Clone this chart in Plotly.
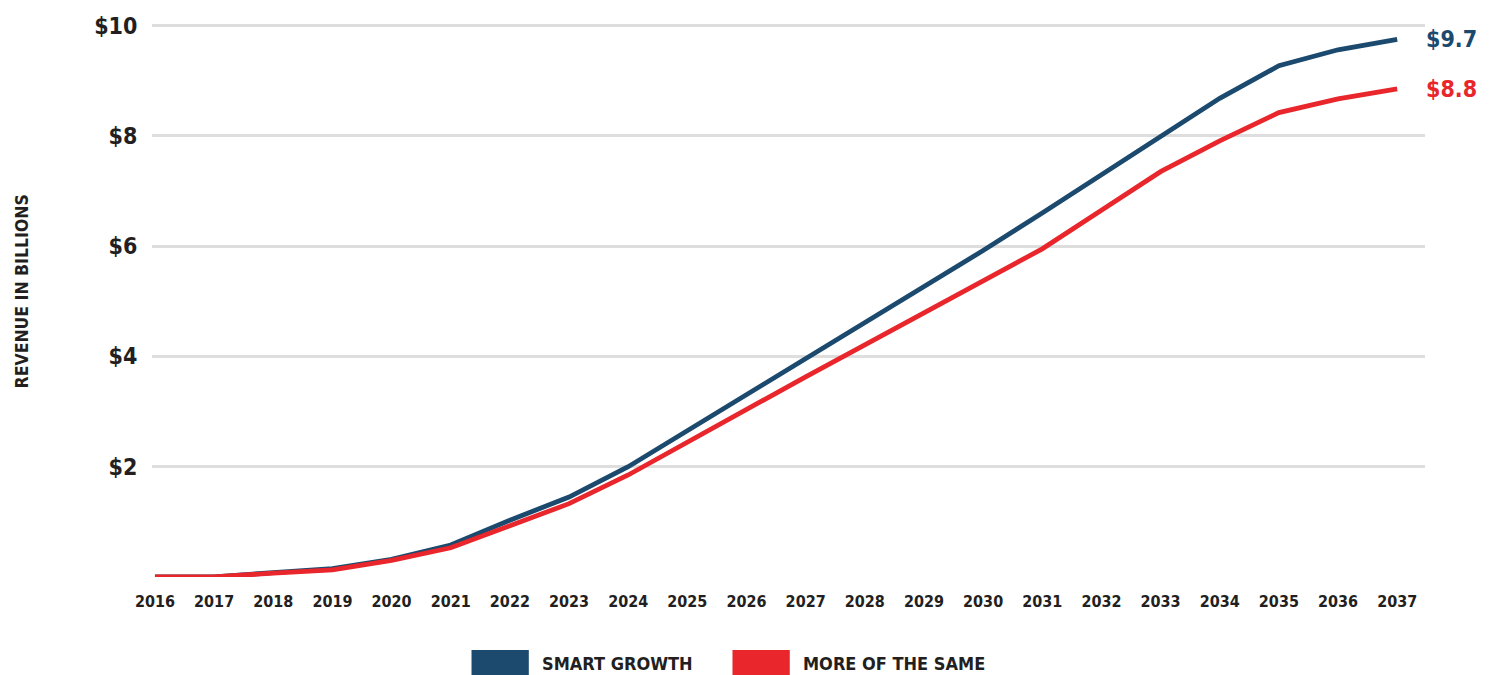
import plotly.graph_objects as go

years = list(range(2016, 2038))
smart_growth = [0, 0, 0.08, 0.15, 0.32, 0.58, 1.03, 1.45, 2.0, 2.65, 3.3, 3.95,
                4.6, 5.26, 5.92, 6.6, 7.3, 8.0, 8.68, 9.27, 9.56, 9.75]
more_of_same = [0, 0, 0.07, 0.13, 0.3, 0.53, 0.93, 1.33, 1.85, 2.45, 3.04, 3.63,
                4.21, 4.79, 5.37, 5.95, 6.65, 7.35, 7.91, 8.42, 8.67, 8.85]
series_names = ["SMART GROWTH", "MORE OF THE SAME"]
end_labels = ["$9.7", "$8.8"]
y_ticks = [2, 4, 6, 8, 10]
y_tick_text = ["$2", "$4", "$6", "$8", "$10"]
y_title = "REVENUE IN BILLIONS"

BLUE = "#1b4a6e"
RED = "#e8262b"
TXT = "#231f20"
FONT = "DejaVu Sans Condensed, Liberation Sans Narrow, Roboto, sans-serif"

fig = go.Figure()
for name, vals, col in [(series_names[0], smart_growth, BLUE), (series_names[1], more_of_same, RED)]:
    fig.add_trace(go.Scatter(x=years, y=vals, mode="lines", name=name,
                             line=dict(color=col, width=4.8), showlegend=False))

# end labels
for vals, col, lab in [(smart_growth, BLUE, end_labels[0]), (more_of_same, RED, end_labels[1])]:
    fig.add_annotation(x=years[-1], y=vals[-1], text=f"<b>{lab}</b>", showarrow=False,
                       xanchor="left", xshift=27, font=dict(family=FONT, size=23, color=col))

# y-axis title
fig.add_annotation(xref="paper", yref="paper", x=-0.102, y=0.513, text=f"<b>{y_title}</b>",
                   textangle=-90, showarrow=False, xanchor="center", yanchor="middle",
                   font=dict(family=FONT, size=17.5, color=TXT))

# custom legend (rectangles + labels) below the chart
legend_items = [(series_names[0], BLUE, 0.251), (series_names[1], RED, 0.456)]
for name, col, x0 in legend_items:
    fig.add_shape(type="rect", xref="paper", yref="paper", x0=x0, x1=x0 + 0.045,
                  y0=-0.178, y1=-0.131, fillcolor=col, line=dict(width=0))
    fig.add_annotation(xref="paper", yref="paper", x=x0 + 0.054, y=-0.155, text=f"<b>{name}</b>",
                       showarrow=False, xanchor="left", yanchor="middle",
                       font=dict(family=FONT, size=18, color=TXT))

fig.update_layout(
    width=1481, height=667,
    margin=dict(l=144, r=64, t=12, b=98),
    plot_bgcolor="white", paper_bgcolor="white",
    font=dict(family=FONT, color=TXT),
    showlegend=False,
)
fig.update_xaxes(
    range=[2015.95, 2037.47], tickmode="array", tickvals=years,
    ticktext=[f"<b>{y}</b>" for y in years],
    tickfont=dict(family=FONT, size=16, color=TXT),
    showgrid=False, zeroline=False, showline=False, automargin=False,
    ticks="outside", ticklen=10, tickcolor="rgba(0,0,0,0)",
)
fig.update_yaxes(
    range=[0, 10.1], tickmode="array", tickvals=[0] + y_ticks,
    ticktext=[""] + [f"<b>{t}</b>" for t in y_tick_text],
    tickfont=dict(family=FONT, size=23, color=TXT),
    showgrid=True, gridcolor="#dedede", gridwidth=3, zeroline=False, showline=False,
    automargin=False,
    ticks="outside", ticklen=9, tickcolor="rgba(0,0,0,0)",
)

fig.write_html("out.html")
